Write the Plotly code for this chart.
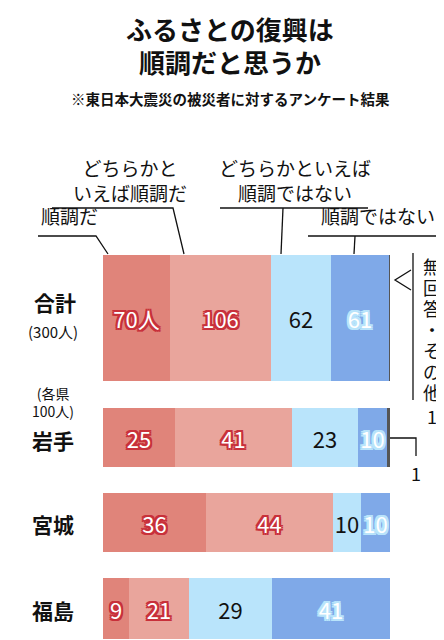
import plotly.graph_objects as go

rows = ["合計", "岩手", "宮城", "福島"]
totals = [300, 100, 100, 100]
junchou = [70, 25, 36, 9]
dochira_junchou = [106, 41, 44, 21]
dochira_not = [62, 23, 10, 29]
not_junchou = [61, 10, 10, 41]
no_answer = [1, 1, 0, 0]

series = [
    ("順調だ", junchou, "#e0847a", "#c8303a"),
    ("どちらかといえば順調だ", dochira_junchou, "#e9a59c", "#c8303a"),
    ("どちらかといえば順調ではない", dochira_not, "#b9e4fb", None),
    ("順調ではない", not_junchou, "#7fa9e8", "#b9e4fb"),
    ("無回答・その他", no_answer, "#555555", None),
]

# bar centre / thickness in page pixels (layout only)
row_y = [310, 429, 514, 600]
row_h = [126, 59, 59, 61]

FONT = "Noto Sans CJK JP"
fig = go.Figure()
for i, (name, vals, col, outline) in enumerate(series):
    pct = [v / t * 100 for v, t in zip(vals, totals)]
    labels = []
    for r, v in enumerate(vals):
        if i == 4:
            labels.append("")
        elif r == 0 and i == 0:
            labels.append(f"{v}人")
        else:
            labels.append(str(v))
    if outline:
        sh = ", ".join(f"{a}px {b}px 0 {outline}" for a in (-2, 0, 2) for b in (-2, 0, 2))
        tf = dict(color="white", size=22, family=FONT, shadow=sh)
    else:
        tf = dict(color="#111", size=22, family=FONT)
    fig.add_trace(go.Bar(
        x=pct, y=row_y, width=row_h, orientation="h", name=name,
        marker=dict(color=col, line=dict(width=0)),
        text=labels, textposition="inside", insidetextanchor="middle",
        textfont=tf, cliponaxis=False, showlegend=False, hoverinfo="skip",
        constraintext="none",
    ))

fig.update_layout(
    width=444, height=640, margin=dict(l=0, r=0, t=0, b=0),
    barmode="stack", bargap=0, plot_bgcolor="white", paper_bgcolor="white",
    font=dict(family=FONT, color="#111"),
    xaxis=dict(domain=[95 / 444, 382 / 444], range=[0, 100], visible=False),
    yaxis=dict(domain=[0, 1], range=[640, 0], visible=False),
)

def txt(x, y, s, size, bold=False, anchor="center"):
    if bold:
        s = f"<b>{s}</b>"
    fig.add_annotation(x=x / 444, y=1 - y / 640, xref="paper", yref="paper",
                       text=s, showarrow=False, xanchor=anchor, yanchor="middle",
                       font=dict(size=size, family=FONT, color="#111"))

def seg(pts):
    path = "M " + " L ".join(f"{x/444},{1 - y/640}" for x, y in pts)
    fig.add_shape(type="path", path=path, xref="paper", yref="paper",
                  line=dict(color="#111", width=1.3))

txt(222, 20, "ふるさとの復興は", 26, True)
txt(222, 54, "順調だと思うか", 26, True)
txt(222, 90, "※東日本大震災の被災者に対するアンケート結果", 14.5, True)

# category labels
txt(47, 294, "合計", 21, True)
txt(45, 323, "(300人)", 15)
txt(45, 394, "(各県<br>100人)", 14)
txt(45, 432, "岩手", 21, True)
txt(45, 516, "宮城", 21, True)
txt(45, 602, "福島", 21, True)

# callouts
txt(62, 207, "順調だ", 19)
seg([(30, 228), (88, 228), (100, 246)])
txt(122, 172, "どちらかと<br>いえば順調だ", 19)
seg([(44, 200), (165, 200), (176, 246)])
txt(287, 172, "どちらかといえば<br>順調ではない", 19)
seg([(212, 200), (360, 200)])
seg([(275, 200), (273, 246)])
txt(370, 207, "順調ではない", 19)
seg([(300, 228), (436, 228)])
seg([(347, 228), (346, 246)])

# no answer bracket (total)
seg([(405, 245), (405, 392)])
seg([(403, 262), (387, 272), (403, 282)])
for k, ch in enumerate("無回答・その他"):
    txt(424, 258 + k * 21, ch, 18)
txt(424, 408, "1", 18)
# 岩手 no-answer leader
seg([(382, 430), (408, 430), (408, 448)])
txt(408, 465, "1", 18)

fig.write_html("out.html")
